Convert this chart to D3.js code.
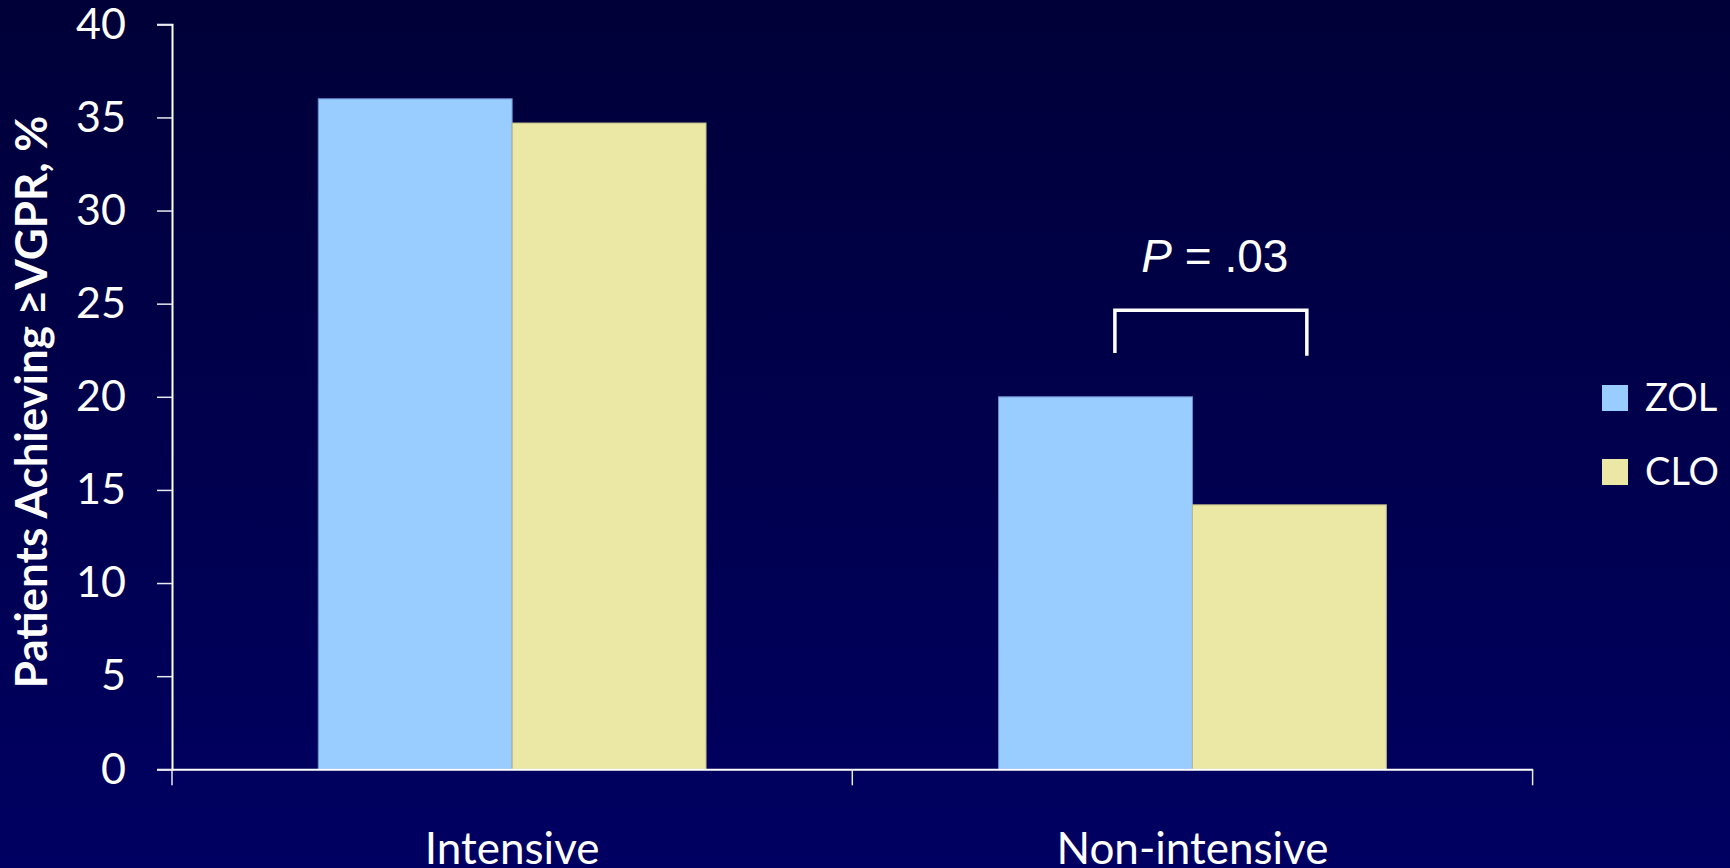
<!DOCTYPE html>
<html>
<head>
<meta charset="utf-8">
<script src="https://cdn.jsdelivr.net/npm/d3@7"></script>
<style>
  html, body { margin: 0; padding: 0; background: #000048; }
  svg { display: block; }
</style>
</head>
<body>
<svg id="chart" width="1730" height="868"></svg>
<script>
// Response rates (%) by treatment setting
const categories = ["Intensive", "Non-intensive"];
const seriesNames = ["ZOL", "CLO"];
const zolValues = [36, 20];
const cloValues = [34.7, 14.2];
const yTicks = [0, 5, 10, 15, 20, 25, 30, 35, 40];
const pLabel = ".03";

const colors = { ZOL: "#99ccff", CLO: "#ebe8a6" };
const strokes = { ZOL: "#6a8fd0", CLO: "#bdb886" };

const W = 1730, H = 868;
const plot = { left: 172, right: 1532.6, top: 24.3, bottom: 769.3 };

const svg = d3.select("#chart");

// background gradient
const defs = svg.append("defs");
const grad = defs.append("linearGradient").attr("id", "bg").attr("x1", 0).attr("y1", 0).attr("x2", 0).attr("y2", 1);
grad.append("stop").attr("offset", "0%").attr("stop-color", "#000038");
grad.append("stop").attr("offset", "100%").attr("stop-color", "#000062");
svg.append("rect").attr("width", W).attr("height", H).attr("fill", "url(#bg)");

const x0 = d3.scaleBand().domain(categories).range([plot.left, plot.right]).padding(0);
const bw = x0.bandwidth();
const x1 = d3.scaleBand().domain(seriesNames).range([bw * 0.215, bw * 0.785]).padding(0);
const y = d3.scaleLinear().domain([0, 40]).range([plot.bottom, plot.top]);

const rows = categories.map((c, i) => ({ cat: c, ZOL: zolValues[i], CLO: cloValues[i] }));

// bars
const groups = svg.append("g").selectAll("g").data(rows).join("g")
  .attr("transform", d => `translate(${x0(d.cat)},0)`);
groups.selectAll("rect")
  .data(d => seriesNames.map(s => ({ s, v: d[s] })))
  .join("rect")
  .attr("x", d => x1(d.s))
  .attr("y", d => y(d.v))
  .attr("width", x1.bandwidth())
  .attr("height", d => y(0) - y(d.v))
  .attr("fill", d => colors[d.s])
  .attr("stroke", d => strokes[d.s])
  .attr("stroke-width", 1);

const fontMain = "Lato, 'Open Sans', sans-serif";

// y axis
const yAxis = svg.append("g")
  .attr("transform", `translate(${plot.left},0)`)
  .call(d3.axisLeft(y).tickValues(yTicks).tickSize(15).tickPadding(31).tickFormat(d3.format("d")));
yAxis.select(".domain").attr("stroke", "#ffffff").attr("stroke-width", 2);
yAxis.selectAll(".tick line").attr("stroke", "#e8e8f0").attr("stroke-width", 1.5);
yAxis.selectAll(".tick text")
  .attr("fill", "#ffffff")
  .style("font-family", fontMain)
  .style("font-size", "43px");

// x axis: baseline, boundary ticks, category labels
const xAxis = svg.append("g")
  .attr("transform", `translate(0,${plot.bottom})`)
  .call(d3.axisBottom(x0).tickSize(0).tickPadding(63).tickSizeOuter(0));
xAxis.select(".domain").attr("stroke", "#ffffff").attr("stroke-width", 2);
xAxis.selectAll(".tick text")
  .attr("fill", "#ffffff")
  .style("font-family", fontMain)
  .style("font-size", "44px");

const boundaries = [plot.left].concat(categories.map(c => x0(c) + bw));
svg.append("g").selectAll("line").data(boundaries).join("line")
  .attr("x1", d => d).attr("x2", d => d)
  .attr("y1", plot.bottom).attr("y2", plot.bottom + 16)
  .attr("stroke", "#e8e8f0").attr("stroke-width", 1.5);

// y axis title
svg.append("text")
  .attr("transform", `translate(47,402) rotate(-90)`)
  .attr("text-anchor", "middle")
  .attr("fill", "#ffffff")
  .style("font-family", fontMain)
  .style("font-weight", "bold")
  .style("font-size", "44px")
  .text("Patients Achieving ≥VGPR, %");

// significance bracket over non-intensive pair
const cat2 = categories[1];
const bx1 = x0(cat2) + x1("ZOL") + x1.bandwidth() * 0.6;
const bx2 = x0(cat2) + x1("CLO") + x1.bandwidth() * 0.59;
const bracketTop = 24.65, legL = 22.35, legR = 22.2;
svg.append("path")
  .attr("d", `M${bx1},${y(legL)} V${y(bracketTop)} H${bx2} V${y(legR)}`)
  .attr("fill", "none")
  .attr("stroke", "#ffffff")
  .attr("stroke-width", 3.5);

const pText = svg.append("text")
  .attr("x", (bx1 + bx2) / 2 + 4)
  .attr("y", y(26.7))
  .attr("text-anchor", "middle")
  .attr("fill", "#ffffff")
  .style("font-family", "'Liberation Sans', Arial, sans-serif")
  .style("font-size", "46px");
pText.append("tspan").style("font-style", "italic").text("P");
pText.append("tspan").text(" = " + pLabel);

// legend
const legend = svg.append("g").attr("transform", "translate(1602,385)");
const li = legend.selectAll("g").data(seriesNames).join("g")
  .attr("transform", (d, i) => `translate(0,${i * 74})`);
li.append("rect").attr("width", 26).attr("height", 26).attr("fill", d => colors[d]);
li.append("text")
  .attr("x", 43).attr("y", 13).attr("dy", "0.35em")
  .attr("fill", "#ffffff")
  .style("font-family", fontMain)
  .style("font-size", "38px")
  .text(d => d);
</script>
</body>
</html>
